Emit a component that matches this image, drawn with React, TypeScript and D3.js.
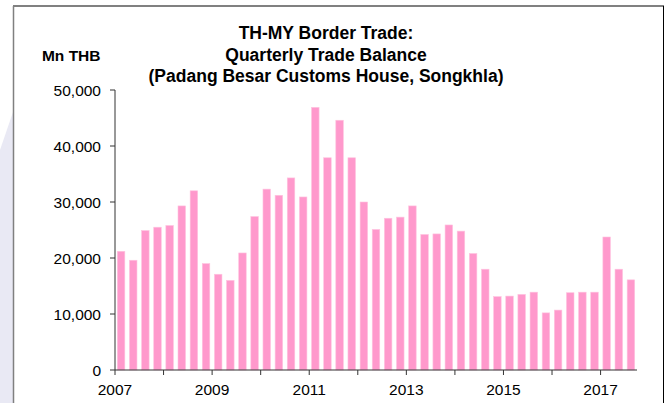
import React from "react";
import * as d3 from "d3";

const years = d3.range(2007, 2018);
const quarters: string[] = [];
years.forEach((y) => [1, 2, 3, 4].forEach((q) => quarters.push(`${y}Q${q}`)));
const categories = quarters.slice(0, 43);

const balance = [
  21200, 19600, 24900, 25500, 25800, 29300, 32000, 19000,
  17100, 16000, 20900, 27400, 32300, 31200, 34300, 30900,
  46900, 37900, 44600, 37900, 30000, 25100, 27100, 27300,
  29300, 24200, 24300, 25900, 24800, 20800, 18000, 13100,
  13200, 13500, 13900, 10200, 10700, 13800, 13900, 13900,
  23750, 18000, 16100,
];

const yTicks = [0, 10000, 20000, 30000, 40000, 50000];
const xTickYears = [2007, 2009, 2011, 2013, 2015, 2017];
const titleLines = [
  "TH-MY Border Trade:",
  "Quarterly Trade Balance",
  "(Padang Besar Customs House, Songkhla)",
];
const unitLabel = "Mn THB";

const W = 670;
const H = 403;
const left = 115;
const right = 637;
const top = 90;
const bottom = 370;
const font = "Liberation Sans, Arial, sans-serif";

export default function App() {
  const x = d3.scaleBand<string>().domain(categories).range([left, right]).paddingInner(0.38).paddingOuter(0.19);
  const y = d3.scaleLinear().domain([0, 50000]).range([bottom, top]);
  const fmt = d3.format(",");
  const step = x.step();
  const bandStart = (i: number) => left + i * step;

  return (
    <svg width={W} height={H} style={{ position: "absolute", left: 0, top: 0 }} fontFamily={font}>
      <rect x={0} y={0} width={W} height={H} fill="#ffffff" />
      <polygon points="0,150 13,112 13,403 0,403" fill="#e9e9f4" />
      {/* frame */}
      <line x1={13.5} y1={6} x2={13.5} y2={H} stroke="#808080" strokeWidth={1.5} />
      <line x1={13} y1={6} x2={664} y2={6} stroke="#808080" strokeWidth={2} />
      <line x1={663.5} y1={6} x2={663.5} y2={H} stroke="#000" strokeWidth={1} />

      {/* titles */}
      {titleLines.map((t, i) => (
        <text key={i} x={326} y={39 + i * 21.7} textAnchor="middle" fontSize={17.5} fontWeight="bold" fill="#000">
          {t}
        </text>
      ))}
      <text x={100.5} y={61} textAnchor="end" fontSize={15.5} fontWeight="bold" fill="#000">
        {unitLabel}
      </text>

      {/* bars */}
      {categories.map((c, i) => (
        <rect
          key={c}
          x={x(c)!}
          y={y(balance[i])}
          width={x.bandwidth()}
          height={bottom - y(balance[i])}
          fill="#ff99cc"
          stroke="#ffc4df"
          strokeWidth={0.6}
        />
      ))}

      {/* y axis */}
      <line x1={left} y1={top} x2={left} y2={bottom} stroke="#333" strokeWidth={1} />
      {yTicks.map((t) => (
        <g key={t}>
          <line x1={left - 5} y1={y(t)} x2={left} y2={y(t)} stroke="#333" />
          <text x={101} y={y(t) + 5.5} textAnchor="end" fontSize={15.5} fill="#000">
            {fmt(t)}
          </text>
        </g>
      ))}

      {/* x axis */}
      <line x1={left} y1={bottom} x2={right} y2={bottom} stroke="#333" strokeWidth={1} />
      {years.map((yr, k) => {
        const xp = bandStart(k * 4);
        return <line key={yr} x1={xp} y1={bottom} x2={xp} y2={bottom + 5} stroke="#333" />;
      })}
      {xTickYears.map((yr) => {
        const xp = bandStart((yr - 2007) * 4);
        return (
          <text key={yr} x={xp} y={395} textAnchor="middle" fontSize={15.5} fill="#000">
            {yr}
          </text>
        );
      })}
    </svg>
  );
}
